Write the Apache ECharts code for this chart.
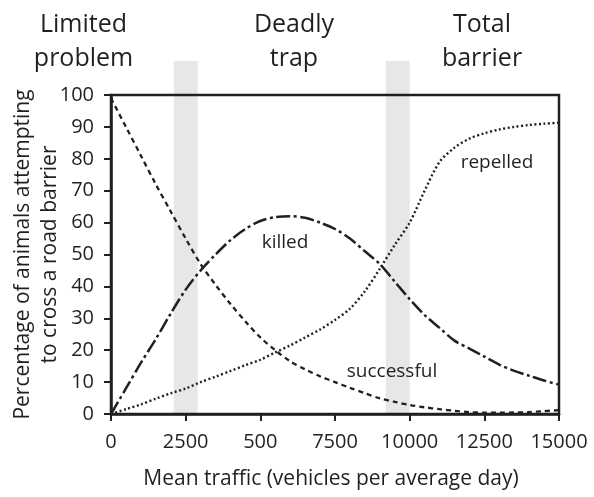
<!DOCTYPE html>
<html>
<head>
<meta charset="utf-8">
<script src="https://cdn.jsdelivr.net/npm/echarts@6/dist/echarts.min.js"></script>
<style>
  html, body { margin: 0; padding: 0; background: #fff; }
  #chart { width: 594px; height: 497px; }
</style>
</head>
<body>
<div id="chart"></div>
<script>
// traffic volumes (vehicles per day)
const traffic = [0, 500, 1000, 1500, 2000, 2500, 3000, 3500, 4000, 4500, 5000, 5500, 6000, 6500, 7000, 7500,
  8000, 8500, 9000, 9500, 10000, 10500, 11000, 11500, 12000, 12500, 13000, 13500, 14000, 14500, 15000]

const successful = [99, 90, 81, 72, 63.5, 55, 47, 40.5, 34.5, 29, 24, 20, 16.5, 14, 11.8, 10,
  8.2, 6.5, 4.9, 3.8, 2.8, 2.1, 1.5, 1, 0.6, 0.4, 0.4, 0.5, 0.6, 0.9, 1.2]
const killed = [0, 8, 16, 23.5, 31.5, 39, 45, 50, 54.5, 58, 60.5, 61.7, 62, 61.5, 60, 58,
  55, 51, 47, 41.5, 36, 31, 27, 23, 20.5, 18, 15.5, 13.5, 12, 10.5, 9.2]
const repelled = [0, 1.5, 3, 4.8, 6.5, 8, 10, 11.7, 13.5, 15.3, 17, 19.3, 21.5, 24, 26.5, 29.5,
  33, 38.5, 45.5, 53, 60, 70, 79, 83.5, 86.3, 88, 89.2, 90, 90.6, 91, 91.3]

// x tick labels as printed (incl. the "500" at 5000)
const xTickLabels = ['0', '2500', '500', '7500', '10000', '12500', '15000']

// transition zones (grey bands)
const bandStart = [2100, 9200]
const bandEnd = [2900, 10000]

// zone headings
const zoneNames = ['Limited\nproblem', 'Deadly\ntrap', 'Total\nbarrier']

// curve labels [text, x, y]
const curveLabels = [
  ['killed', 5826, 53.6],
  ['repelled', 12924, 78.7],
  ['successful', 9408, 13.2]
]

const ink = '#231f20'
const font = 'Open Sans'

const chart = echarts.init(document.getElementById('chart'))

function pairs(ys) {
  return traffic.map((x, i) => [x, ys[i]])
}

const option = {
  animation: false,
  textStyle: { fontFamily: font },
  grid: {
    left: 111,
    right: 35,
    top: 95,
    bottom: 83,
    outerBoundsMode: 'none',
    show: true,
    borderColor: ink,
    borderWidth: 2.5,
    backgroundColor: 'transparent'
  },
  xAxis: {
    type: 'value',
    min: 0,
    max: 15000,
    interval: 2500,
    name: 'Mean traffic (vehicles per average day)',
    nameLocation: 'middle',
    nameGap: 55,
    nameMoveOverlap: false,
    nameTextStyle: { fontSize: 21, color: ink, fontFamily: font, padding: [0, 8, 0, 0] },
    axisLine: { lineStyle: { color: ink, width: 2.5 } },
    axisTick: { show: true, inside: false, length: 7, lineStyle: { color: ink, width: 2 } },
    axisLabel: {
      fontSize: 20,
      color: ink,
      margin: 18,
      fontFamily: font,
      formatter: v => xTickLabels[Math.round(v / 2500)]
    },
    splitLine: { show: false }
  },
  yAxis: {
    type: 'value',
    min: 0,
    max: 100,
    interval: 10,
    name: 'Percentage of animals attempting\nto cross a road barrier',
    nameLocation: 'middle',
    nameGap: 47,
    nameMoveOverlap: false,
    nameTextStyle: { fontSize: 21, color: ink, fontFamily: font, lineHeight: 27 },
    axisLine: { lineStyle: { color: ink, width: 2.5 } },
    axisTick: { show: true, inside: false, length: 7, lineStyle: { color: ink, width: 2 } },
    axisLabel: { fontSize: 20, color: ink, margin: 17, fontFamily: font },
    splitLine: { show: false }
  },
  series: [
    {
      name: 'successful',
      type: 'line',
      smooth: 0.3,
      symbol: 'none',
      data: pairs(successful),
      lineStyle: { color: ink, width: 2.3, type: [5, 4] },
      z: 3
    },
    {
      name: 'killed',
      type: 'line',
      smooth: 0.3,
      symbol: 'none',
      data: pairs(killed),
      lineStyle: { color: ink, width: 2.5, type: [14, 3.5, 3, 3.5] },
      z: 3
    },
    {
      name: 'repelled',
      type: 'line',
      smooth: 0.3,
      symbol: 'none',
      data: pairs(repelled),
      lineStyle: { color: ink, width: 2.4, type: [2, 2.5] },
      z: 3
    }
  ]
}

chart.setOption(option)

// extras placed through the axes' scales
const bottomY = chart.convertToPixel({ gridIndex: 0 }, [0, 0])[1]
const bandTop = 61
const graphics = []

bandStart.forEach((x0, i) => {
  const px0 = chart.convertToPixel({ gridIndex: 0 }, [x0, 0])[0]
  const px1 = chart.convertToPixel({ gridIndex: 0 }, [bandEnd[i], 0])[0]
  graphics.push({
    type: 'rect',
    z: -10,
    shape: { x: px0, y: bandTop, width: px1 - px0, height: bottomY - bandTop },
    style: { fill: '#e6e7e8' }
  })
})

const zoneX = [83.5, 294, 482]
zoneNames.forEach((t, i) => {
  graphics.push({
    type: 'text',
    x: zoneX[i],
    y: 8,
    style: {
      text: t,
      fontSize: 25,
      lineHeight: 34,
      fontFamily: font,
      fill: ink,
      align: 'center',
      verticalAlign: 'top'
    }
  })
})

curveLabels.forEach(([t, x, y]) => {
  const p = chart.convertToPixel({ gridIndex: 0 }, [x, y])
  graphics.push({
    type: 'text',
    x: p[0],
    y: p[1],
    z: 10,
    style: {
      text: t,
      fontSize: 19,
      fontFamily: font,
      fill: ink,
      align: 'center',
      verticalAlign: 'middle'
    }
  })
})

chart.setOption({ graphic: graphics })
</script>
</body>
</html>
